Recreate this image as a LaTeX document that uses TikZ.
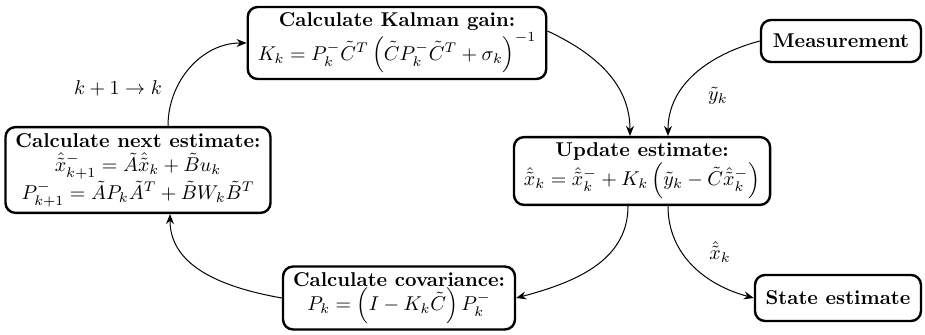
\documentclass[tikz,border=0pt]{standalone}
\usepackage{amsmath,amssymb}
\usetikzlibrary{arrows.meta}
\tikzset{sc/.style={x=.5pt,y=-.5pt,line width=.5pt},
  blk/.style={draw,very thick,rounded corners=5pt,align=center,fill=white,inner xsep=5pt,inner ysep=3pt},
  flow/.style={-{Stealth[length=5pt,width=4pt]}}}

\begin{document}
\begin{tikzpicture}[sc]
  \useasboundingbox (0,0) rectangle (925,335);
  \node[blk] (gain) at (397,43) {\textbf{Calculate Kalman gain:}\\ $K_k = P_k^-\tilde{C}^T\left(\tilde{C}P_k^-\tilde{C}^T+\sigma_k\right)^{-1}$};
  \node[blk] (next) at (138,170) {\textbf{Calculate next estimate:}\\ $\hat{\tilde{x}}_{k+1}^- = \tilde{A}\hat{\tilde{x}}_k+\tilde{B}u_k$\\ $P_{k+1}^- = \tilde{A}P_k\tilde{A}^T+\tilde{B}W_k\tilde{B}^T$};
  \node[blk] (upd) at (642,171) {\textbf{Update estimate:}\\ $\hat{\tilde{x}}_k = \hat{\tilde{x}}_k^- + K_k\left(\tilde{y}_k-\tilde{C}\hat{\tilde{x}}_k^-\right)$};
  \node[blk] (cov) at (399,298) {\textbf{Calculate covariance:}\\ $P_k = \left(I-K_k\tilde{C}\right)P_k^-$};
  \node[blk,minimum width=80pt,minimum height=21pt] (meas) at (841,41) {\textbf{Measurement}};
  \node[blk,minimum width=83pt,minimum height=23pt] (est) at (838,298) {\textbf{State estimate}};
  % cycle
  \draw[flow] ([yshift=6pt]gain.east) to[out=-25,in=90] ([xshift=-6pt]upd.north);
  \draw[flow] ([xshift=-7pt]upd.south) to[out=-90,in=15] (cov.east);
  \draw[flow] (cov.west) to[out=170,in=-90] ([xshift=16pt]next.south);
  \draw[flow] ([xshift=15pt]next.north) to[out=90,in=180] (gain.west);
  % in / out
  \draw[flow] (meas.west) to[out=195,in=90] ([xshift=13pt]upd.north);
  \draw[flow] ([xshift=13pt]upd.south) to[out=-90,in=165] (est.west);
  \node (ylab) at (718,96) {$\tilde{y}_k$};
  \node (xlab) at (720,252) {$\hat{\tilde{x}}_k$};
  \node (klab) at (118,88) {$k+1\rightarrow k$};
\end{tikzpicture}
\end{document}
